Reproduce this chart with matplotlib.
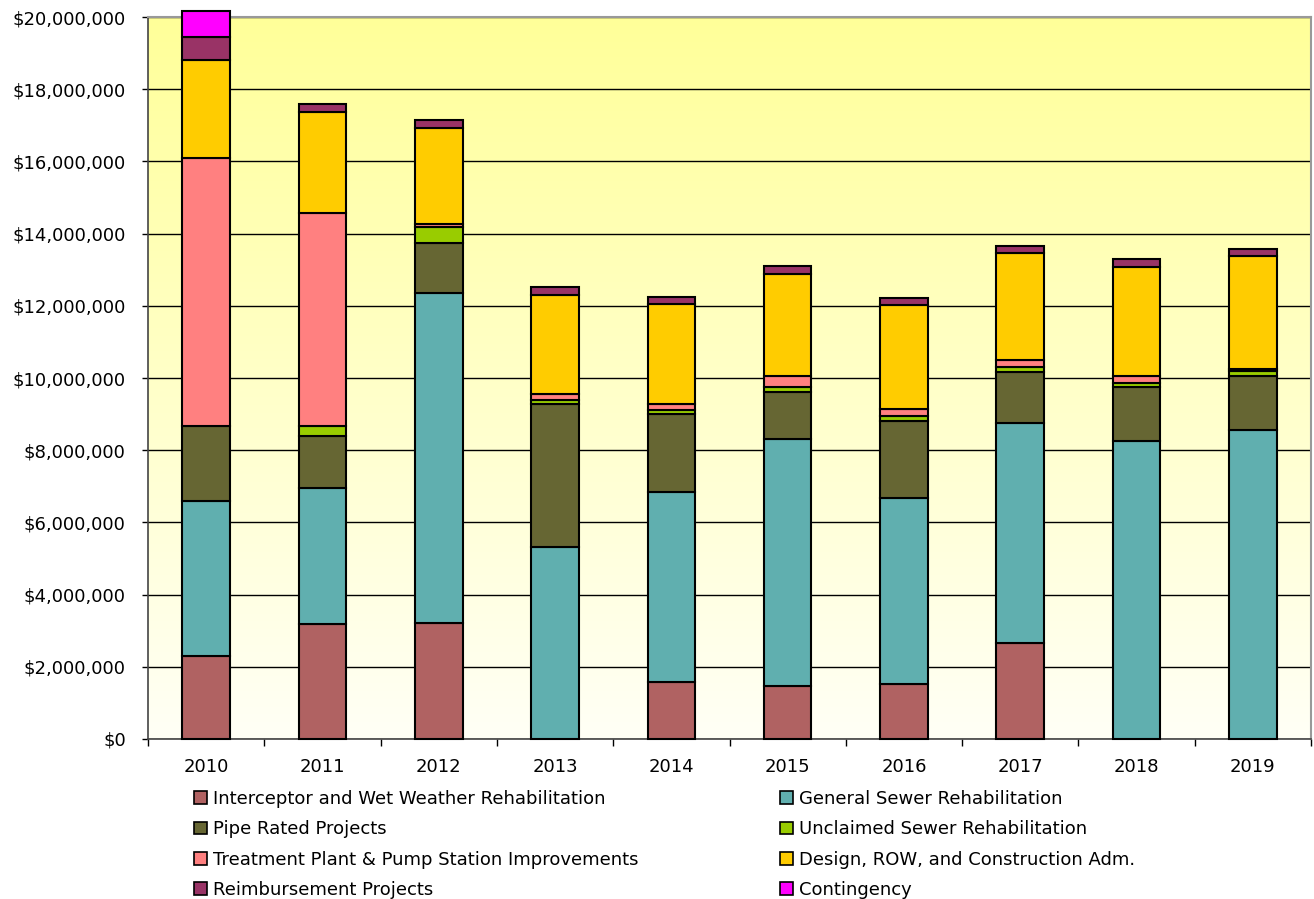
import numpy as np
import matplotlib.pyplot as plt
from matplotlib.colors import LinearSegmentedColormap
from matplotlib.patches import Patch
from matplotlib.ticker import FuncFormatter, FixedLocator

years = ["2010", "2011", "2012", "2013", "2014", "2015", "2016", "2017", "2018", "2019"]

# values in $ millions
interceptor = [2.30, 3.19, 3.21, 0.00, 1.58, 1.47, 1.52, 2.66, 0.00, 0.00]
general = [4.29, 3.76, 9.14, 5.32, 5.26, 6.84, 5.16, 6.09, 8.25, 8.56]
pipe = [2.08, 1.44, 1.39, 3.96, 2.16, 1.30, 2.14, 1.42, 1.49, 1.50]
unclaimed = [0.00, 0.28, 0.44, 0.10, 0.10, 0.13, 0.13, 0.13, 0.13, 0.13]
treatment = [7.42, 5.90, 0.09, 0.17, 0.17, 0.31, 0.18, 0.20, 0.18, 0.05]
design = [2.72, 2.80, 2.66, 2.75, 2.78, 2.83, 2.89, 2.95, 3.03, 3.14]
reimbursement = [0.64, 0.22, 0.22, 0.23, 0.20, 0.22, 0.20, 0.21, 0.22, 0.20]
contingency = [0.72, 0, 0, 0, 0, 0, 0, 0, 0, 0]

labels = ["Interceptor and Wet Weather Rehabilitation", "General Sewer Rehabilitation",
          "Pipe Rated Projects", "Unclaimed Sewer Rehabilitation",
          "Treatment Plant & Pump Station Improvements", "Design, ROW, and Construction Adm.",
          "Reimbursement Projects", "Contingency"]
colors = ["#B06262", "#60AFAF", "#666633", "#99CC00", "#FF8080", "#FFCC00", "#993366", "#FF00FF"]
series = [interceptor, general, pipe, unclaimed, treatment, design, reimbursement, contingency]

plt.rcParams['font.family'] = ['DejaVu Sans']

fig = plt.figure(figsize=(13.14, 8.99), dpi=100)
ax = fig.add_axes([148 / 1314, 1 - 739 / 899, (1311 - 148) / 1314, 722 / 899])

# background gradient
cmap = LinearSegmentedColormap.from_list("bg", ["#FFFFF6", "#FFFF99"])
grad = np.linspace(0, 1, 256).reshape(-1, 1)
ax.imshow(grad, cmap=cmap, origin="lower", aspect="auto",
          extent=[-0.5, 9.5, 0, 20e6], zorder=0)

x = np.arange(len(years))
bottom = np.zeros(len(years))
for vals, col in zip(series, colors):
    v = np.array(vals) * 1e6
    mask = v > 0
    ax.bar(x[mask], v[mask], 0.41, bottom=bottom[mask], color=col,
           edgecolor="black", linewidth=1.5, zorder=3, clip_on=False)
    bottom += v

ax.set_xlim(-0.5, 9.5)
ax.set_ylim(0, 20e6)
ax.set_yticks(np.arange(0, 20e6 + 1, 2e6))
ax.yaxis.set_major_formatter(FuncFormatter(lambda v, p: "${:,.0f}".format(v)))
ax.grid(axis="y", color="black", linewidth=1, zorder=1)
ax.set_axisbelow(True)

ax.set_xticks(x)
ax.set_xticklabels(years)
ax.xaxis.set_minor_locator(FixedLocator(np.arange(-0.5, 10, 1)))
ax.tick_params(axis="x", which="major", length=0, pad=14, labelsize=13)
ax.tick_params(axis="x", which="minor", length=5, width=1, direction="out")
ax.tick_params(axis="y", length=4, width=1, direction="out", labelsize=13, pad=12)

for s in ["left", "bottom"]:
    ax.spines[s].set_color("#444444")
    ax.spines[s].set_linewidth(1.2)
for s in ["top", "right"]:
    ax.spines[s].set_color("#999999")
    ax.spines[s].set_linewidth(1.5)

handles = [Patch(facecolor=c, edgecolor="black", linewidth=1.2) for c in colors]
order = [0, 2, 4, 6, 1, 3, 5, 7]
fig.legend([handles[i] for i in order], [labels[i] for i in order],
           ncol=2, loc="upper left", bbox_to_anchor=(194 / 1314, 1 - 790 / 899),
           frameon=False, fontsize=13, handlelength=0.7, handleheight=0.7,
           handletextpad=0.35, columnspacing=7.85, labelspacing=0.68,
           borderpad=0, borderaxespad=0)

fig.savefig("out.png", dpi=100)
